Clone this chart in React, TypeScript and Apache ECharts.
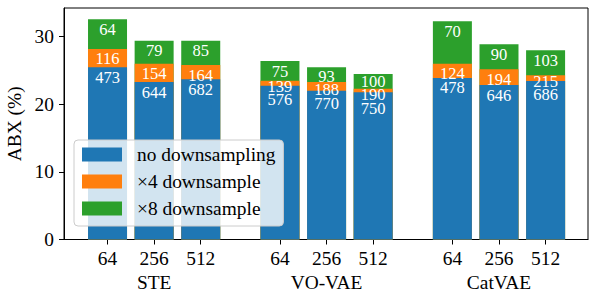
import React, { useEffect, useRef } from "react";
import * as echarts from "echarts";

const groups = ["STE", "VO-VAE", "CatVAE"];
const codebookSizes = ["64", "256", "512"];
const seriesNames = ["no downsampling", "×4 downsample", "×8 downsample"];

// ABX (%) per bar, order: STE 64/256/512, VO-VAE 64/256/512, CatVAE 64/256/512
const abxNoDown = [25.5, 23.3, 23.7, 22.75, 22.0, 21.8, 23.9, 22.85, 23.45];
const abxX4 = [28.2, 26.0, 25.8, 23.5, 23.3, 22.3, 26.0, 25.2, 24.3];
const abxX8 = [32.6, 29.4, 29.4, 26.4, 25.5, 24.5, 32.3, 28.9, 28.0];

// Numbers printed inside the bars
const lblNoDown = [473, 644, 682, 576, 770, 750, 478, 646, 686];
const lblX4 = [116, 154, 164, 139, 188, 190, 124, 194, 215];
const lblX8 = [64, 79, 85, 75, 93, 100, 70, 90, 103];

const yTicks = [0, 10, 20, 30];

const COLORS = ["#1f77b4", "#ff7f0e", "#2ca02c"];
const FONT = "Liberation Serif";
const FS = 19.4;
const GROUP_STEP = 3.7;
const LABEL_DROP = 10; // label centre below bar top, px
const LABEL_SPACING = 13.5;

const barPos = (k: number) => Math.floor(k / 3) * GROUP_STEP + (k % 3);

export default function App() {
  const ref = useRef<HTMLDivElement>(null);
  useEffect(() => {
    if (!ref.current) return;
    const chart = echarts.init(ref.current, null, { renderer: "svg" });
    const n = abxNoDown.length;
    const positions = Array.from({ length: n }, (_, k) => barPos(k));
    const groupCenters = groups.map((_, g) => g * GROUP_STEP + 1);
    const zeros = () => Array.from({ length: n }, () => 0);

    const mk = (
      id: string,
      name: string,
      vals: number[],
      labels: number[],
      color: string,
      offs: number[]
    ) => ({
      id,
      name,
      type: "bar",
      xAxisIndex: 0,
      barWidth: 39,
      barGap: "-100%",
      data: vals.map((v, i) => ({
        value: [positions[i], v],
        label: { offset: [0, offs[i]] },
      })),
      itemStyle: { color },
      label: {
        show: true,
        position: "insideTop",
        distance: 10 - 8.5,
        color: "#fff",
        fontFamily: FONT,
        fontSize: 16.5,
        formatter: (p: any) => String(labels[p.dataIndex]),
      },
    });

    const buildSeries = (o8: number[], o4: number[], o0: number[]) => [
      mk("s8", seriesNames[2], abxX8, lblX8, COLORS[2], o8),
      mk("s4", seriesNames[1], abxX4, lblX4, COLORS[1], o4),
      mk("s0", seriesNames[0], abxNoDown, lblNoDown, COLORS[0], o0),
    ];

    const xMin = -0.934;
    const xMax = 10.31;
    const axisFont = { color: "#000", fontFamily: FONT, fontSize: FS };

    chart.setOption({
      animation: false,
      textStyle: { fontFamily: FONT },
      grid: {
        left: 64,
        right: 1,
        top: 8,
        bottom: 51.5,
        outerBoundsMode: "none",
        containLabel: false,
        show: true,
        borderColor: "#000",
        borderWidth: 1,
        backgroundColor: "transparent",
      },
      legend: {
        data: seriesNames,
        orient: "vertical",
        left: 74,
        top: 140,
        padding: [5, 8, 8, 8],
        itemWidth: 40,
        itemHeight: 14,
        itemGap: 8,
        icon: "rect",
        backgroundColor: "rgba(255,255,255,0.8)",
        borderColor: "#ccc",
        borderWidth: 1,
        borderRadius: 4,
        textStyle: {
          fontFamily: FONT,
          fontSize: FS,
          color: "#000",
          padding: [0, 0, 0, 10],
        },
      },
      xAxis: [
        {
          type: "value",
          min: xMin,
          max: xMax,
          splitLine: { show: false },
          axisLine: { show: true, onZero: false, lineStyle: { color: "#000", width: 1 } },
          axisTick: {
            show: true,
            length: 5,
            customValues: positions,
            lineStyle: { color: "#000" },
          },
          axisLabel: {
            customValues: positions,
            margin: 9,
            ...axisFont,
            formatter: (v: number) => {
              const k = positions.findIndex((p) => Math.abs(p - v) < 1e-6);
              return k >= 0 ? codebookSizes[k % 3] : "";
            },
          },
        },
        {
          type: "value",
          min: xMin,
          max: xMax,
          position: "bottom",
          offset: 24,
          splitLine: { show: false },
          axisLine: { show: false, onZero: false },
          axisTick: { show: false },
          axisLabel: {
            customValues: groupCenters,
            margin: 9,
            ...axisFont,
            formatter: (v: number) => {
              const g = groupCenters.findIndex((p) => Math.abs(p - v) < 1e-6);
              return g >= 0 ? groups[g] : "";
            },
          },
        },
      ],
      yAxis: {
        type: "value",
        min: 0,
        max: 34.25,
        name: "ABX (%)",
        nameLocation: "middle",
        nameGap: 40,
        nameTextStyle: { ...axisFont },
        splitLine: { show: false },
        axisLine: { show: true, onZero: false, lineStyle: { color: "#000", width: 1 } },
        axisTick: {
          show: true,
          length: 5,
          customValues: yTicks,
          lineStyle: { color: "#000" },
        },
        axisLabel: {
          customValues: yTicks,
          margin: 10,
          ...axisFont,
        },
      },
      series: buildSeries(zeros(), zeros(), zeros()),
    });

    // push apart labels that would collide inside the same bar
    const o8 = zeros();
    const o4 = zeros();
    const o0 = zeros();
    for (let i = 0; i < n; i++) {
      const vals = [abxX8[i], abxX4[i], abxNoDown[i]];
      const nominal = vals.map(
        (v) => (chart.convertToPixel({ yAxisIndex: 0 }, v) as number) + LABEL_DROP
      );
      const c = nominal.slice();
      for (let it = 0; it < 60; it++) {
        for (let j = 0; j < 2; j++) {
          const gap = c[j + 1] - c[j];
          if (gap < LABEL_SPACING) {
            const push = (LABEL_SPACING - gap) / 2;
            c[j] -= push;
            c[j + 1] += push;
          }
        }
      }
      o8[i] = c[0] - nominal[0];
      o4[i] = c[1] - nominal[1];
      o0[i] = c[2] - nominal[2];
    }
    chart.setOption({ series: buildSeries(o8, o4, o0) });

    return () => chart.dispose();
  }, []);
  return (
    <div
      ref={ref}
      style={{ position: "fixed", left: 0, top: 0, width: 589, height: 291, background: "#fff" }}
    />
  );
}
